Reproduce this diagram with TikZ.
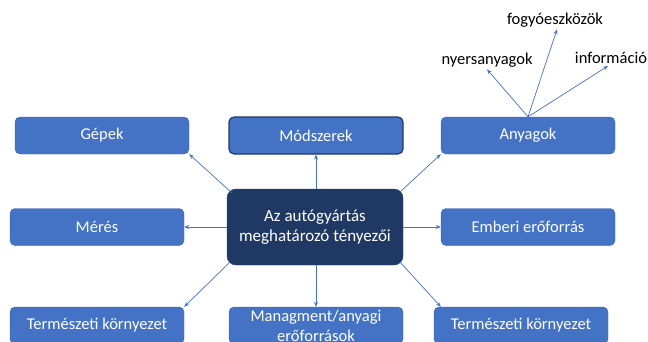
\documentclass[tikz,border=0pt]{standalone}
\usepackage{fontspec}
\setmainfont{Carlito}
\usetikzlibrary{arrows.meta}
\definecolor{boxblue}{HTML}{4472C4}
\definecolor{boxedge}{HTML}{3A62AC}
\definecolor{navyfill}{HTML}{203864}
\begin{document}
\begin{tikzpicture}[x=1pt, y=-1pt,
    factor/.style={draw=boxedge, fill=boxblue, rounded corners=5pt, minimum width=174pt,
      minimum height=37pt, inner sep=0pt, text=white, align=center,
      font=\fontsize{16.5}{20}\selectfont},
    hub/.style={factor, fill=navyfill, draw=navyfill, minimum width=176pt, minimum height=76pt,
      rounded corners=9pt, font=\fontsize{17}{20}\selectfont},
    sub/.style={inner sep=2pt, font=\fontsize{16.5}{19}\selectfont},
    link/.style={draw=boxblue, line width=0.7pt, -{Stealth[length=5pt,width=4pt]}}]
    \useasboundingbox (0,0) rectangle (648,341);

    % center
    \node[hub] (core) at (315,227) {Az autógyártás\\meghatározó tényezői};

    % factors around it
    \node[factor] (gep) at (102,135.5) {Gépek};
    \node[factor, draw=navyfill, line width=1.2pt] (modszer) at (316,135.5) {Módszerek};
    \node[factor] (anyag) at (528,135.5) {Anyagok};
    \node[factor] (meres) at (97,227) {Mérés};
    \node[factor] (ember) at (528,227) {Emberi erőforrás};
    \node[factor] (kornyL) at (97,325.5) {Természeti környezet};
    \node[factor] (menedzs) at (316,325.5) {Managment/anyagi\\erőforrások};
    \node[factor] (kornyR) at (521,325.5) {Természeti környezet};

    % sub-items of Anyagok
    \node[sub] (nyers) at (487,60) {nyersanyagok};
    \node[sub] (fogyo) at (555,20) {fogyóeszközök};
    \node[sub] (info) at (611,58) {információ};

    % connectors
    \draw[link] ([shift={(5,4)}]core.north west) -- (gep.south east);
    \draw[link] (core.north -| modszer.south) -- (modszer.south);
    \draw[link] ([shift={(-3,3)}]core.north east) -- (anyag.south west);
    \draw[link] (core.west) -- (meres.east);
    \draw[link] (core.east) -- (ember.west);
    \draw[link] ([shift={(3,-3)}]core.south west) -- (kornyL.north east);
    \draw[link] (core.south -| menedzs.north) -- (menedzs.north);
    \draw[link] ([shift={(-3,-3)}]core.south east) -- ([xshift=7pt]kornyR.north west);

    \draw[link] (anyag.north) -- (nyers.south);
    \draw[link] (anyag.north) -- ([xshift=2pt]fogyo.south);
    \draw[link] (anyag.north) -- ([xshift=-3pt]info.south);
\end{tikzpicture}
\end{document}
